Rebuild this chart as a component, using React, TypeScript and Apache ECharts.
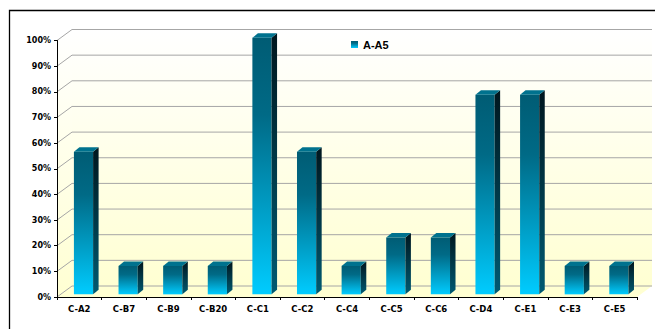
import React, { useEffect, useRef } from "react";
import * as echarts from "echarts";

// Categories and their share (%) for series A-A5
const categories = ["C-A2", "C-B7", "C-B9", "C-B20", "C-C1", "C-C2", "C-C4", "C-C5", "C-C6", "C-D4", "C-E1", "C-E3", "C-E5"];
const values = [55.6, 11.1, 11.1, 11.1, 100, 55.6, 11.1, 22.2, 22.2, 77.8, 77.8, 11.1, 11.1];
const seriesName = "A-A5";
// Levels of the wall gridlines (percent)
const gridLevels = [0, 10, 20, 30, 40, 50, 60, 70, 80, 90, 100];

// Depth of the 3D box (back wall offset) in px
const DX = 15;
const DY = -11;

const wallGradient = () =>
  new echarts.graphic.LinearGradient(0, 0, 0, 1, [
    { offset: 0, color: "#FFFFFF" },
    { offset: 1, color: "#FFFFD2" },
  ]);

const frontGradient = () =>
  new echarts.graphic.LinearGradient(0, 0, 0, 1, [
    { offset: 0, color: "#005C74" },
    { offset: 0.3, color: "#006A86" },
    { offset: 1, color: "#00CCFF" },
  ]);

const sideGradient = () =>
  new echarts.graphic.LinearGradient(0, 0, 0, 1, [
    { offset: 0, color: "#00161E" },
    { offset: 1, color: "#005A72" },
  ]);

export default function App() {
  const ref = useRef<HTMLDivElement>(null);

  useEffect(() => {
    if (!ref.current) return;
    const chart = echarts.init(ref.current, null, { renderer: "svg" });

    const axisFont = {
      fontFamily: "DejaVu Sans",
      fontWeight: "bold" as const,
      fontSize: 8,
      color: "#000",
    };

    chart.setOption({
      animation: false,
      backgroundColor: "#FFFFFF",
      grid: { left: 57, right: 18, top: 40.5, bottom: 32, containLabel: false },
      legend: {
        data: [{ name: seriesName, icon: "rect" }],
        left: 346,
        top: 34,
        itemWidth: 7,
        itemHeight: 7,
        textStyle: {
          fontFamily: "Liberation Sans",
          fontWeight: "bold",
          fontSize: 11,
          color: "#000",
        },
      },
      xAxis: {
        type: "category",
        data: categories,
        z: 5,
        axisLine: { show: true, lineStyle: { color: "#000", width: 1 } },
        axisTick: { show: true, length: 3, lineStyle: { color: "#000" } },
        axisLabel: { ...axisFont, fontSize: 8.5, margin: 7, interval: 0 },
        splitLine: { show: false },
      },
      yAxis: {
        type: "value",
        min: 0,
        max: 100,
        interval: 10,
        z: 5,
        axisLine: { show: true, lineStyle: { color: "#000", width: 1 } },
        axisTick: { show: true, length: 3, lineStyle: { color: "#000" } },
        axisLabel: { ...axisFont, margin: 6, formatter: "{value}%" },
        splitLine: { show: false },
      },
      graphic: [
        {
          type: "rect",
          silent: true,
          shape: { x: 9.5, y: 10.5, width: 700, height: 400 },
          style: { fill: "none", stroke: "#000", lineWidth: 1.3 },
        },
      ],
      series: [
        {
          // walls, floor and gridlines of the 3D box
          type: "custom",
          name: "walls",
          silent: true,
          z: 0,
          data: [[0, 0]],
          renderItem: (params: any, api: any) => {
            const cs = params.coordSys;
            const x0 = cs.x;
            const y0 = cs.y;
            const w = cs.width;
            const h = cs.height;
            const children: any[] = [
              {
                type: "polygon",
                shape: {
                  points: [
                    [x0 + DX, y0 + DY],
                    [x0 + w + DX, y0 + DY],
                    [x0 + w + DX, y0 + h + DY],
                    [x0 + DX, y0 + h + DY],
                  ],
                },
                style: { fill: wallGradient() },
              },
              {
                type: "polygon",
                shape: {
                  points: [
                    [x0, y0],
                    [x0 + DX, y0 + DY],
                    [x0 + DX, y0 + h + DY],
                    [x0, y0 + h],
                  ],
                },
                style: { fill: wallGradient() },
              },
              {
                type: "polygon",
                shape: {
                  points: [
                    [x0, y0 + h],
                    [x0 + DX, y0 + h + DY],
                    [x0 + w + DX, y0 + h + DY],
                    [x0 + w, y0 + h],
                  ],
                },
                style: { fill: "#FFFFD2" },
              },
            ];
            gridLevels.forEach((lv) => {
              const y = api.coord([0, lv])[1];
              children.push({
                type: "polyline",
                shape: {
                  points: [
                    [x0, y],
                    [x0 + DX, y + DY],
                    [x0 + w + DX, y + DY],
                  ],
                },
                style: { fill: "none", stroke: "#A6A6A6", lineWidth: 1 },
              });
            });
            return { type: "group", children };
          },
        },
        {
          type: "custom",
          name: seriesName,
          z: 3,
          itemStyle: { color: frontGradient() },
          encode: { x: 0, y: 1 },
          data: values.map((v, i) => [i, v]),
          renderItem: (params: any, api: any) => {
            const idx = api.value(0);
            const v = api.value(1);
            const base = api.coord([idx, 0]);
            const top = api.coord([idx, v]);
            const band = api.size([1, 0])[0];
            const w = band * 0.43;
            const ox = DX * 0.28;
            const oy = DY * 0.24;
            const bx = 5.5;
            const by = -4.5;
            const left = base[0] - w / 2 + ox;
            const right = left + w;
            const yb = base[1] + oy;
            const yt = top[1] + oy;
            return {
              type: "group",
              children: [
                {
                  type: "rect",
                  shape: { x: left, y: yt, width: w, height: yb - yt },
                  style: { fill: frontGradient() },
                },
                {
                  type: "polygon",
                  shape: {
                    points: [
                      [right, yt],
                      [right + bx, yt + by],
                      [right + bx, yb + by],
                      [right, yb],
                    ],
                  },
                  style: { fill: sideGradient() },
                },
                {
                  type: "polygon",
                  shape: {
                    points: [
                      [left, yt],
                      [left + bx, yt + by],
                      [right + bx, yt + by],
                      [right, yt],
                    ],
                  },
                  style: { fill: "#00728E" },
                },
              ],
            };
          },
        },
      ],
    });

    return () => chart.dispose();
  }, []);

  return (
    <div
      ref={ref}
      style={{ position: "absolute", left: 0, top: 0, width: 655, height: 329 }}
    />
  );
}
